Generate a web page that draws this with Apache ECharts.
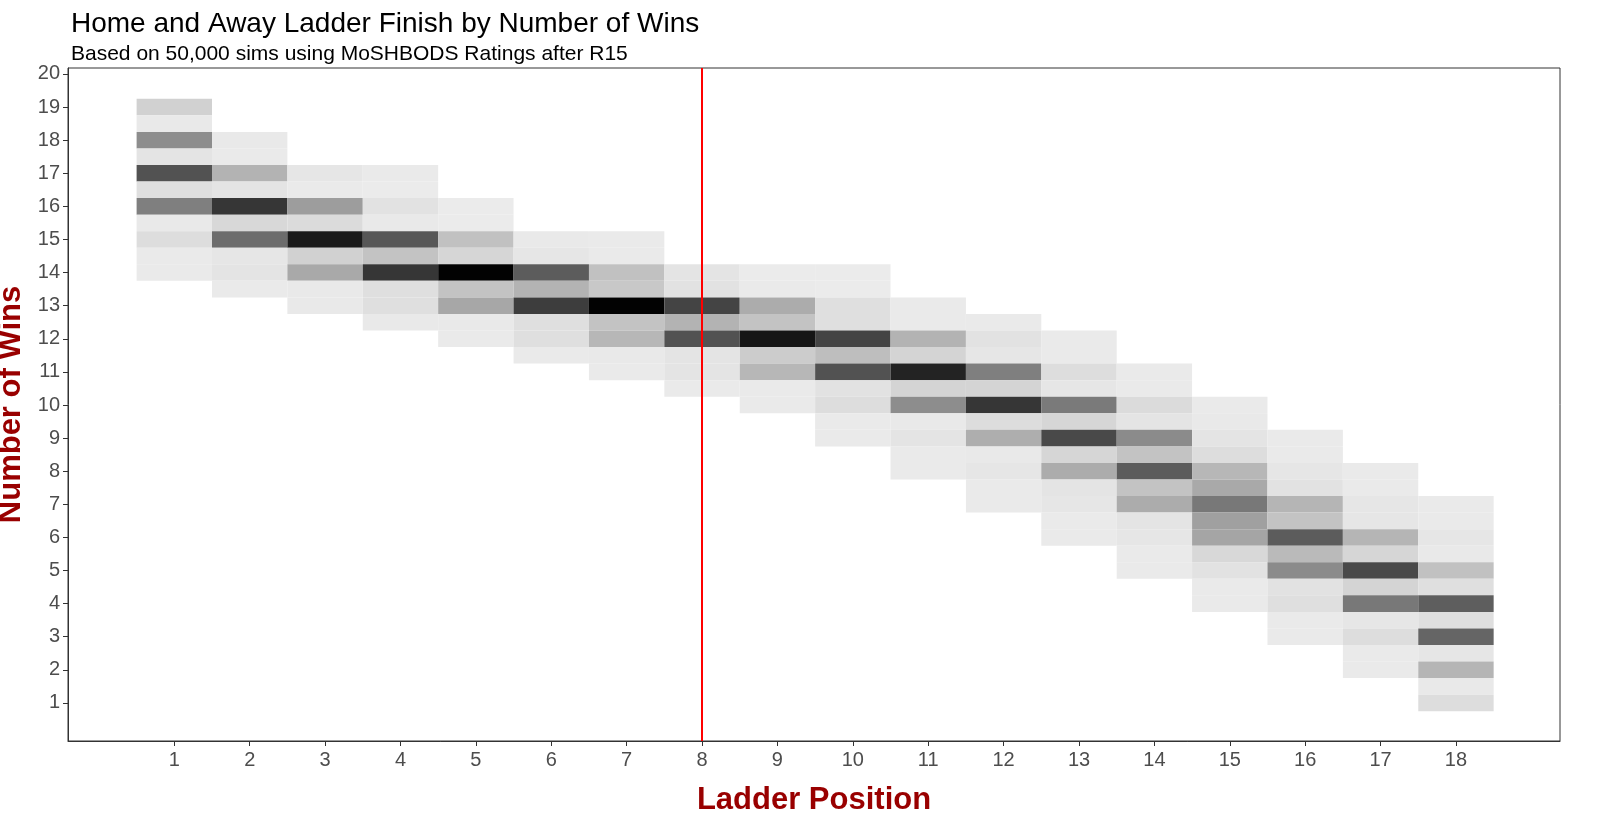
<!DOCTYPE html>
<html>
<head>
<meta charset="utf-8">
<script src="https://cdn.jsdelivr.net/npm/echarts@6/dist/echarts.min.js"></script>
<style>html,body{margin:0;padding:0;background:#fff}#main{width:1600px;height:822px}</style>
</head>
<body>
<div id="main"></div>
<script>
// ladder positions and the highest win total (half-win bins) drawn in each column
var positions = [1, 2, 3, 4, 5, 6, 7, 8, 9, 10, 11, 12, 13, 14, 15, 16, 17, 18];
var topWins = [19, 18, 17, 17, 16, 15, 15, 14, 14, 14, 13, 12.5, 12, 11, 10, 9, 8, 7];
// relative frequency (0-100) for each half-win bin, from topWins downward
var freq = [
  [11, 1, 40, 3, 65, 5, 46, 1, 6, 0.4, 0.4],
  [1, 0.4, 24, 3, 77, 8, 54, 2, 3, 0.4],
  [2, 0.4, 33, 7, 89, 11, 28, 1, 1],
  [0.4, 0.2, 4, 1, 63, 17, 77, 5, 5, 1],
  [0.2, 0.2, 18, 9, 99, 17, 29, 1, 0.4],
  [1, 2, 61, 24, 74, 5, 5, 0.4],
  [0.4, 0.4, 18, 15, 99, 17, 22, 1, 0.4],
  [3, 4, 71, 24, 65, 3, 3, 0.4],
  [0.2, 0.4, 27, 17, 91, 13, 22, 0.4, 0.4],
  [0.2, 0.2, 5, 5, 71, 19, 65, 4, 6, 0.4, 0.4],
  [0.4, 0.4, 24, 10, 85, 10, 40, 1, 3, 0.4, 0.4],
  [0.4, 4, 2, 46, 10, 77, 6, 26, 1, 2, 0.4, 0.4],
  [0.4, 0.4, 6, 2, 48, 9, 69, 9, 27, 3, 2, 0.4, 0.4],
  [0.4, 0.4, 7, 3, 41, 17, 61, 17, 27, 3, 2, 0.4, 0.4],
  [0.4, 1, 3, 6, 22, 28, 49, 32, 30, 8, 4, 0.4, 0.4],
  [0.4, 0.4, 2, 4, 23, 17, 61, 21, 41, 4, 5, 0.4, 0.4],
  [0.4, 0.4, 2, 2, 23, 9, 69, 10, 49, 2, 6, 0.4, 0.4],
  [0.4, 0.4, 2, 1, 18, 5, 60, 5, 57, 2, 23, 1, 6]
];
var winTicks = [1, 2, 3, 4, 5, 6, 7, 8, 9, 10, 11, 12, 13, 14, 15, 16, 17, 18, 19, 20];

var data = [];
positions.forEach(function (p, i) {
  freq[i].forEach(function (v, j) {
    data.push([p, topWins[i] - j * 0.5, v]);
  });
});

var chart = echarts.init(document.getElementById('main'));
var lab = { color: '#4d4d4d', fontSize: 20, fontFamily: 'Liberation Sans' };
chart.setOption({
  animation: false,
  title: {
    text: 'Home and Away Ladder Finish by Number of Wins',
    subtext: 'Based on 50,000 sims using MoSHBODS Ratings after R15',
    left: 66, top: 5, itemGap: 6,
    textStyle: { fontSize: 28, fontWeight: 'normal', color: '#000', fontFamily: 'Liberation Sans' },
    subtextStyle: { fontSize: 21, color: '#000', fontFamily: 'Liberation Sans' }
  },
  grid: { left: 68, right: 40, top: 68, bottom: 81, containLabel: false, outerBoundsMode: 'none',
    show: true, borderColor: '#333', borderWidth: 1 },
  visualMap: {
    show: false, type: 'continuous', min: 0, max: 100, dimension: 2,
    inRange: { color: ['#ebebeb', '#000000'] }
  },
  xAxis: {
    type: 'value', min: -0.41, max: 19.38,
    name: 'Ladder Position', nameLocation: 'middle', nameGap: 44,
    nameTextStyle: { color: '#990000', fontSize: 31, fontWeight: 'bold', fontFamily: 'Liberation Sans' },
    axisLine: { show: true, onZero: false, lineStyle: { color: '#333' } },
    axisTick: { show: true, customValues: positions, length: 5, lineStyle: { color: '#333' } },
    axisLabel: Object.assign({ customValues: positions, margin: 9 }, lab),
    splitLine: { show: false }
  },
  yAxis: {
    type: 'value', min: -0.15, max: 20.18,
    name: 'Number of Wins', nameLocation: 'middle', nameGap: 40,
    nameTextStyle: { color: '#990000', fontSize: 31, fontWeight: 'bold', fontFamily: 'Liberation Sans' },
    axisLine: { show: true, onZero: false, lineStyle: { color: '#333' } },
    axisTick: { show: true, customValues: winTicks, length: 5, lineStyle: { color: '#333' } },
    axisLabel: Object.assign({ customValues: winTicks, margin: 8 }, lab),
    splitLine: { show: false }
  },
  series: [{
    type: 'custom',
    data: data,
    encode: { x: 0, y: 1 },
    renderItem: function (params, api) {
      var p0 = api.coord([api.value(0) - 0.5, api.value(1) + 0.25]);
      var p1 = api.coord([api.value(0) + 0.5, api.value(1) - 0.25]);
      return {
        type: 'rect',
        shape: { x: p0[0], y: p0[1], width: p1[0] - p0[0], height: p1[1] - p0[1] },
        style: { fill: api.visual('color') }
      };
    },
    markLine: {
      silent: true, symbol: 'none', label: { show: false },
      lineStyle: { color: '#ff0000', width: 2, type: 'solid' },
      data: [{ xAxis: 8 }]
    }
  }]
});
</script>
</body>
</html>
